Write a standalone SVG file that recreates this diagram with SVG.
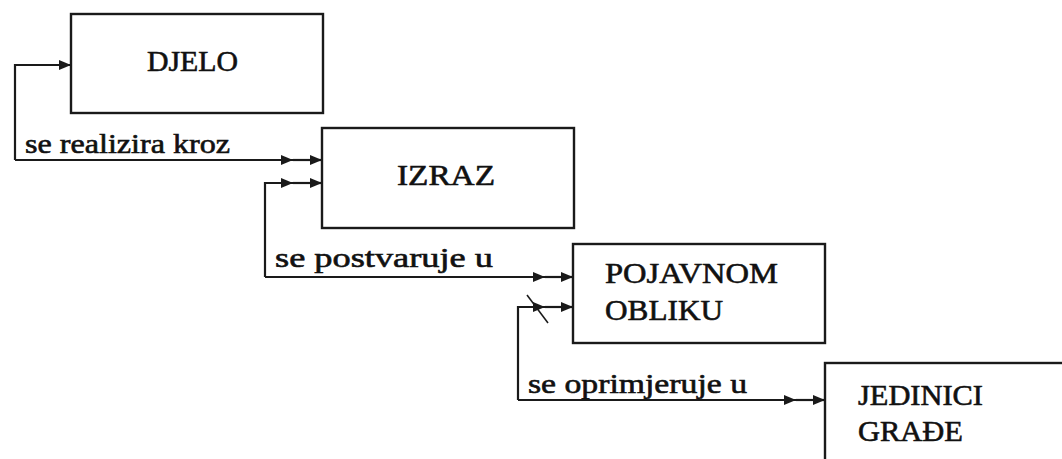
<svg xmlns="http://www.w3.org/2000/svg" width="1062" height="459" viewBox="0 0 1062 459">
<defs>
<style>
.box{fill:#fff;stroke:#1a1a1a;stroke-width:2.4}
.ln{fill:none;stroke:#1a1a1a;stroke-width:2.2}
.t{font-family:"Liberation Serif","Times New Roman",serif;fill:#111;stroke:#111;stroke-width:0.6}
.cap{font-size:29px}
.lab{font-size:27px}
</style>
<marker id="arr" viewBox="0 0 12 10" refX="12" refY="5" markerWidth="13" markerHeight="10" markerUnits="userSpaceOnUse" orient="auto">
<path d="M0,0 L12,5 L0,10 Z" fill="#1a1a1a"/>
</marker>
</defs>
<rect width="1062" height="459" fill="#fff"/>
<g id="connectors">
<path class="ln" d="M15,160 V65 H71" marker-end="url(#arr)"/>
<path class="ln" d="M15,160 H293" marker-end="url(#arr)"/>
<path class="ln" d="M293,160 H322" marker-end="url(#arr)"/>
<path class="ln" d="M265,277 V183 H293" marker-end="url(#arr)"/>
<path class="ln" d="M293,183 H322" marker-end="url(#arr)"/>
<path class="ln" d="M265,277 H545" marker-end="url(#arr)"/>
<path class="ln" d="M545,277 H573" marker-end="url(#arr)"/>
<path class="ln" d="M518,400 V307 H545" marker-end="url(#arr)"/>
<path class="ln" d="M545,307 H573" marker-end="url(#arr)"/>
<path class="ln" d="M518,400 H796" marker-end="url(#arr)"/>
<path class="ln" d="M796,400 H825" marker-end="url(#arr)"/>
<path d="M527,295 L548,323" fill="none" stroke="#1a1a1a" stroke-width="1.5"/>
<text class="t lab" x="25" y="153" textLength="205" lengthAdjust="spacingAndGlyphs">se realizira kroz</text>
<text class="t lab" x="275" y="267" textLength="218" lengthAdjust="spacingAndGlyphs">se postvaruje u</text>
<text class="t lab" x="528" y="393" textLength="219" lengthAdjust="spacingAndGlyphs">se oprimjeruje u</text>
</g>
<g id="djelo">
<rect class="box" x="71" y="14" width="252" height="99"/>
<text class="t cap" x="147" y="71" textLength="91" lengthAdjust="spacingAndGlyphs">DJELO</text>
</g>
<g id="izraz">
<rect class="box" x="322" y="128" width="252" height="100"/>
<text class="t cap" x="397" y="185" textLength="98" lengthAdjust="spacingAndGlyphs">IZRAZ</text>
</g>
<g id="pojavnom-obliku">
<rect class="box" x="573" y="244" width="252" height="99"/>
<text class="t cap" x="605" y="283" textLength="173" lengthAdjust="spacingAndGlyphs">POJAVNOM</text>
<text class="t cap" x="605" y="320" textLength="118" lengthAdjust="spacingAndGlyphs">OBLIKU</text>
</g>
<g id="jedinici-grade">
<rect class="box" x="825" y="363" width="300" height="200"/>
<text class="t cap" x="858" y="405" textLength="125" lengthAdjust="spacingAndGlyphs">JEDINICI</text>
<text class="t cap" x="858" y="441" textLength="105" lengthAdjust="spacingAndGlyphs">GRAĐE</text>
</g>
</svg>
